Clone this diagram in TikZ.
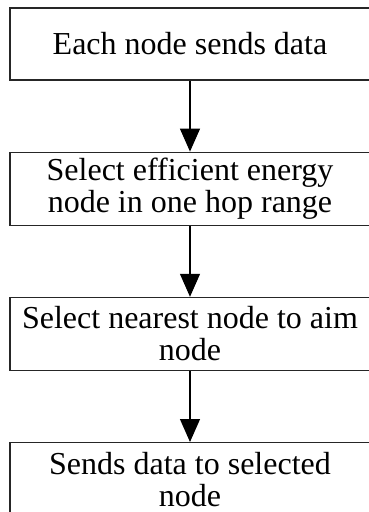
\documentclass[tikz,border=0pt]{standalone}
\usepackage{fontspec}
\setmainfont{Liberation Serif}
\usetikzlibrary{positioning,arrows.meta}

\begin{document}
\begin{tikzpicture}[
                    x=1pt, y=1pt,
                    every node/.style={fill=white},
                    block/.style={rectangle, draw=black!85, line width=1.2pt, minimum width=360pt, minimum height=73pt, inner sep=2pt, font=\fontsize{32}{32}\selectfont},
                    flow/.style={-{Triangle[width=20pt,length=23pt]}, line width=1.2pt},
                    node distance=71pt,
                    align=center,
                ]
                \useasboundingbox (0,0) rectangle (369,-512);
                \node[block, minimum height=72pt] (send) at (190,-44) {Each node sends data};
                \node[block, below=of send] (energy) {Select efficient energy\\ node in one hop range};
                \node[block, below=of energy] (nearest) {Select nearest node to aim\\ node};
                \node[block, below=of nearest] (forward) {Sends data to selected\\ node};

                \draw[flow] (send.south) -- (energy.north);
                \draw[flow] (energy.south) -- (nearest.north);
                \draw[flow] (nearest.south) -- (forward.north);
            \end{tikzpicture}
\end{document}
